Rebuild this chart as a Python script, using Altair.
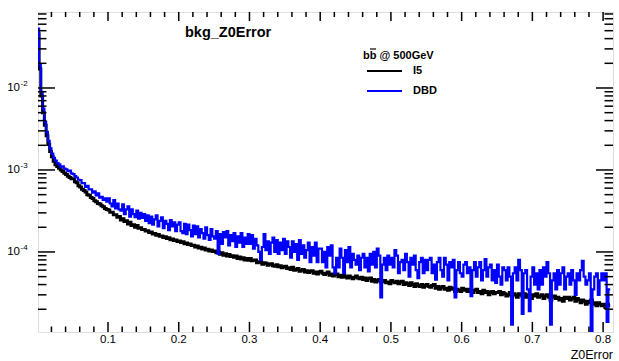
import altair as alt
import numpy as np
import pandas as pd

# ---------------- data (values in units of 1e-5), bin width 0.0025 ----------------
UNIT = 1e-5
i5_vals = [
    # 0.00 - 0.05
    4600, 1700, 800, 500, 350, 262, 205, 168, 145, 128,
    116, 110, 105, 100, 96, 91, 88, 84, 81, 78,
    # 0.05 - 0.10
    78, 72, 70, 64, 62, 58, 56, 54, 50, 49, 46, 45, 42, 41, 39, 38.5, 36.5, 35.5, 34, 33,
    # 0.10 - 0.15
    32.5, 30.5, 30.5, 28.5, 28.5, 26.5, 27, 24.5, 25.5, 23.5, 24, 22, 23, 21, 21.5, 20, 21, 19.5, 19.8, 18.8,
    # 0.15 - 0.20
    18.8, 18.0, 18.2, 17.3, 17.5, 16.6, 16.8, 16.0, 16.3, 15.5, 15.7, 15.0, 15.3, 14.6, 14.9, 14.1, 14.4, 13.8, 14.0, 13.4,
    # 0.20 - 0.25
    13.6, 13.0, 13.3, 12.6, 12.9, 12.3, 12.5, 12.0, 12.1, 11.5, 11.8, 11.2, 11.4, 10.9, 11.2, 10.6, 10.8, 10.3, 10.6, 10.1,
    # 0.25 - 0.30
    10.3, 9.8, 10.0, 9.4, 9.8, 9.1, 9.5, 8.9, 9.3, 8.8, 9.0, 8.6, 8.9, 8.3, 8.7, 8.2, 8.5, 8.0, 8.3, 7.9,
    # 0.30 - 0.35
    8.3, 7.8, 7.9, 8.0, 7.4, 7.6, 7.5, 7.1, 7.4, 7.3, 6.9, 7.1, 7.2, 6.8, 6.7, 7.0, 6.6, 6.8, 6.4, 6.6,
    # 0.35 - 0.40
    6.7, 6.3, 6.4, 6.1, 6.5, 6.0, 6.1, 6.3, 5.8, 6.0, 6.1, 5.7, 5.9, 5.6, 5.8, 5.9, 5.5, 5.7, 5.4, 5.7,
    # 0.40 - 0.45
    5.8, 5.5, 5.3, 5.5, 5.7, 5.2, 5.4, 5.1, 5.3, 5.4, 5.0, 5.2, 4.9, 5.2, 5.0, 4.8, 5.1, 4.9, 4.7, 4.9,
    # 0.45 - 0.50
    5.1, 4.8, 4.7, 4.9, 4.6, 4.8, 4.5, 4.7, 4.8, 4.4, 4.6, 4.3, 4.5, 4.6, 4.3, 4.4, 4.5, 4.2, 4.3, 4.1,
    # 0.50 - 0.55
    4.5, 4.3, 4.2, 4.4, 4.1, 4.3, 4.4, 4.0, 4.2, 4.1, 3.9, 4.2, 4.0, 3.8, 4.1, 3.9, 3.8, 4.0, 3.7, 3.9,
    # 0.55 - 0.60
    4.0, 3.8, 3.7, 3.9, 4.0, 3.6, 3.8, 3.5, 3.7, 3.8, 3.5, 3.6, 3.4, 3.7, 3.5, 3.6, 3.3, 3.5, 3.4, 3.3,
    # 0.60 - 0.65
    3.6, 3.4, 3.5, 3.3, 3.5, 3.4, 3.2, 3.4, 3.5, 3.2, 3.3, 3.1, 3.4, 3.2, 3.3, 3.0, 3.2, 3.3, 3.1, 3.2,
    # 0.65 - 0.70
    3.2, 3.3, 3.0, 3.2, 3.1, 2.9, 3.0, 3.2, 2.9, 3.1, 3.0, 2.8, 3.1, 3.0, 2.9, 3.1, 2.8, 3.0, 2.9, 2.7,
    # 0.70 - 0.75
    3.0, 2.9, 3.1, 2.8, 2.9, 3.0, 2.7, 2.9, 3.0, 2.8, 2.6, 2.8, 2.9, 2.7, 2.8, 2.6, 2.7, 2.5, 2.8, 2.7,
    # 0.75 - 0.80
    2.8, 2.6, 2.7, 2.8, 2.5, 2.7, 2.6, 2.4, 2.6, 2.5, 2.3, 2.5, 2.4, 2.6, 2.3, 2.4, 2.2, 2.4, 2.3, 2.2,
    # 0.80 - 0.81
    2.3, 2.1, 2.3, 2.2,
]
dbd_vals = [
    # 0.00 - 0.05
    5300, 1950, 900, 560, 385, 292, 226, 183, 158, 141,
    130, 121, 117, 110, 111, 104, 102, 97, 98, 91,
    # 0.05 - 0.10
    89, 84, 81, 76, 75, 69, 69, 62, 64, 58, 58, 53, 55, 49, 52, 46, 47, 43, 45, 41,
    # 0.10 - 0.15
    45, 39, 36, 43, 34, 39, 33, 32, 38, 29, 33, 36, 27, 33, 29, 26.5, 32, 25.5, 30, 26,
    # 0.15 - 0.20
    29, 24, 28, 22.5, 27, 21.5, 25, 28, 20.5, 24, 26.5, 19.5, 24, 22, 18.5, 24.5, 20.5, 23, 18, 21.5,
    # 0.20 - 0.25
    23, 18, 17, 22, 16.5, 21.5, 18.5, 15.5, 21, 16.5, 20.5, 15, 19, 17, 14.5, 20, 16, 14, 19, 15.5,
    # 0.25 - 0.30
    14.5, 18, 9.5, 16.5, 12.5, 17.5, 15, 18, 12, 16, 13.5, 17, 11.5, 15.5, 13, 17, 11.5, 15, 12.5, 16.5,
    # 0.30 - 0.35
    12.5, 16, 11, 14.5, 12, 10, 8, 11.5, 16.5, 10.5, 13.5, 9.5, 13, 15, 10, 14, 9.5, 13, 10.5, 14.5,
    # 0.35 - 0.40
    9.5, 13.5, 11.5, 8.5, 13.5, 10, 12.5, 8, 14, 9.5, 12, 8.5, 10.5, 13, 7.5, 11.5, 9, 13, 7.5, 11,
    # 0.40 - 0.45
    11, 7.5, 10, 6.5, 11.5, 9, 12, 6.5, 5.5, 8.5, 6.5, 11, 8.5, 5.5, 10.5, 7.5, 11.5, 6.5, 9.5, 8,
    # 0.45 - 0.50
    7, 9, 6, 8.5, 9.5, 6.5, 8.5, 5.8, 9.5, 7, 10, 6.5, 11, 9, 2.8, 7, 8.5, 6, 9, 7,
    # 0.50 - 0.55
    8.5, 6.5, 10.5, 9, 5.5, 7.5, 8, 6, 9.5, 7.5, 5, 8.5, 7, 9, 6, 4.8, 7.5, 8.5, 5.5, 8,
    # 0.55 - 0.60
    6, 8, 8.5, 5.5, 7, 4.6, 7.5, 8.5, 6, 5, 8.5, 7, 4.5, 7.5, 6.5, 8, 2.8, 6, 7.5, 5.5,
    # 0.60 - 0.65
    5, 7, 7.5, 5.5, 6.5, 2.9, 6, 7.5, 5, 6.5, 7.5, 4.5, 6, 8.2, 5, 6.5, 7, 4.5, 6, 4.2,
    # 0.65 - 0.70
    7, 5, 4, 6.5, 6, 4.5, 6.5, 5, 1.3, 5.5, 6.5, 4.5, 8, 6, 1.75, 5.5, 6, 3.5, 1.9, 5,
    # 0.70 - 0.75
    6.5, 4, 5.5, 3.5, 6, 4, 6.5, 5, 7.5, 5.5, 1.3, 4.5, 5.5, 3.5, 6, 4, 5.5, 6.5, 3.5, 5,
    # 0.75 - 0.80
    5.5, 4, 6, 4.5, 3, 5.5, 4.5, 6, 7.8, 5, 4, 4.5, 5.5, 1.0, 3.5, 5, 5.5, 3, 4.5, 5.5,
    # 0.80 - 0.81
    4.5, 5.5, 1.4, 3.5,
]
BIN_W = 0.0025
x_major = [0.1, 0.2, 0.3, 0.4, 0.5, 0.6, 0.7, 0.8]
y_decades = [1e-2, 1e-3, 1e-4]
series_names = ["I5", "DBD"]

X_DOMAIN = [0.001, 0.814]
Y_DOMAIN = [1.056e-5, 0.0845]
W, H = 575, 320
FONT = "Liberation Sans"

# ---------------- build tables ----------------
rows = []
for name, vals in [("I5", i5_vals), ("DBD", dbd_vals)]:
    for i, v in enumerate(vals):
        rows.append({"x": i * BIN_W, "y": v * UNIT, "s": name})
    rows.append({"x": len(vals) * BIN_W, "y": vals[-1] * UNIT, "s": name})
hist = pd.DataFrame(rows)

xs = alt.Scale(domain=X_DOMAIN, nice=False, zero=False)
ys = alt.Scale(type="log", domain=Y_DOMAIN, nice=False)

def line(name, color, width):
    return alt.Chart(hist).transform_filter(alt.datum.s == name).mark_line(
        interpolate="step-after", color=color, strokeWidth=width, clip=True
    ).encode(x=alt.X("x:Q", scale=xs, axis=None), y=alt.Y("y:Q", scale=ys, axis=None))

black = line("I5", "black", 3)
blue = line("DBD", "#0000ff", 2.2)

# ---- y ticks ----
ymaj = pd.DataFrame({"y": y_decades,
                     "e": [str(int(round(np.log10(v)))) for v in y_decades]})
ymin_vals = []
for d in range(-6, 0):
    for k in range(2, 10):
        v = k * 10.0 ** d
        if Y_DOMAIN[0] < v < Y_DOMAIN[1]:
            ymin_vals.append(v)
ymin = pd.DataFrame({"y": ymin_vals})

def yticks(df, length, right):
    x0 = W - length if right else 0
    x1 = W if right else length
    return alt.Chart(df).mark_rule(color="black", strokeWidth=1.5).encode(
        y=alt.Y("y:Q", scale=ys, axis=None), x=alt.value(x0), x2=alt.value(x1))

# ---- x ticks ----
xmaj = pd.DataFrame({"x": x_major, "t": [f"{v:.1f}" for v in x_major]})
xmin_vals = [round(0.02 * k, 2) for k in range(1, 41) if k % 5 != 0 and 0.02 * k < X_DOMAIN[1]]
xmin = pd.DataFrame({"x": xmin_vals})

def xticks(df, length, top):
    y0 = 0 if top else H
    y1 = length if top else H - length
    return alt.Chart(df).mark_rule(color="black", strokeWidth=1.5).encode(
        x=alt.X("x:Q", scale=xs, axis=None), y=alt.value(y0), y2=alt.value(y1))

xlabels = alt.Chart(xmaj).mark_text(font=FONT, fontSize=11.5, baseline="middle", align="center").encode(
    x=alt.X("x:Q", scale=xs, axis=None), y=alt.value(H + 8), text="t:N")
ylab10 = alt.Chart(ymaj).mark_text(font=FONT, fontSize=11.5, baseline="middle", align="right").encode(
    y=alt.Y("y:Q", scale=ys, axis=None), x=alt.value(-18), text=alt.value("10"))
ylabexp = alt.Chart(ymaj).mark_text(font=FONT, fontSize=8, baseline="middle", align="left", dy=-4).encode(
    y=alt.Y("y:Q", scale=ys, axis=None), x=alt.value(-17.5), text="e:N")

one = pd.DataFrame({"a": [0]})
xtitle = alt.Chart(one).mark_text(font=FONT, fontSize=12.5, align="right", baseline="middle").encode(
    x=alt.value(W), y=alt.value(H + 23), text=alt.value("Z0Error"))
title = alt.Chart(one).mark_text(font=FONT, fontSize=14.5, fontWeight="bold", align="left", baseline="middle").encode(
    x=alt.value(147), y=alt.value(21), text=alt.value("bkg_Z0Error"))
leg_head = alt.Chart(one).mark_text(font=FONT, fontSize=11, fontWeight="bold", align="left", baseline="middle").encode(
    x=alt.value(325), y=alt.value(44), text=alt.value("bb @ 500GeV"))
# bar over the second "b" (anti-b)
leg_bar = alt.Chart(one).mark_rule(color="black", strokeWidth=1.2).encode(
    x=alt.value(332), x2=alt.value(338), y=alt.value(37))
leg_rows = pd.DataFrame({"s": series_names, "c": ["black", "#0000ff"], "yy": [59, 79]})
leg_lines = alt.Chart(leg_rows).mark_rule(strokeWidth=2).encode(
    x=alt.value(329), x2=alt.value(364), y=alt.Y("yy:Q", scale=None),
    color=alt.Color("c:N", scale=None))
leg_text = alt.Chart(leg_rows).mark_text(font=FONT, fontSize=11, fontWeight="bold", align="left", baseline="middle").encode(
    x=alt.value(375), y=alt.Y("yy:Q", scale=None), text="s:N")

chart = alt.layer(
    black, blue,
    yticks(ymaj, 17, False), yticks(ymin, 8.5, False),
    yticks(ymaj, 17, True), yticks(ymin, 8.5, True),
    xticks(xmaj, 10, False), xticks(xmin, 5.5, False),
    xticks(xmaj, 9, True), xticks(xmin, 5, True),
    xlabels, ylab10, ylabexp, xtitle, title, leg_head, leg_bar, leg_lines, leg_text,
).resolve_scale(y="independent").properties(
    width=W, height=H, autosize="none",
    padding={"left": 38, "top": 12, "right": 6, "bottom": 29},
).configure_view(stroke="black", strokeWidth=2).configure(background="white")

chart.save("out.html", embed_options={"renderer": "svg", "actions": False})
